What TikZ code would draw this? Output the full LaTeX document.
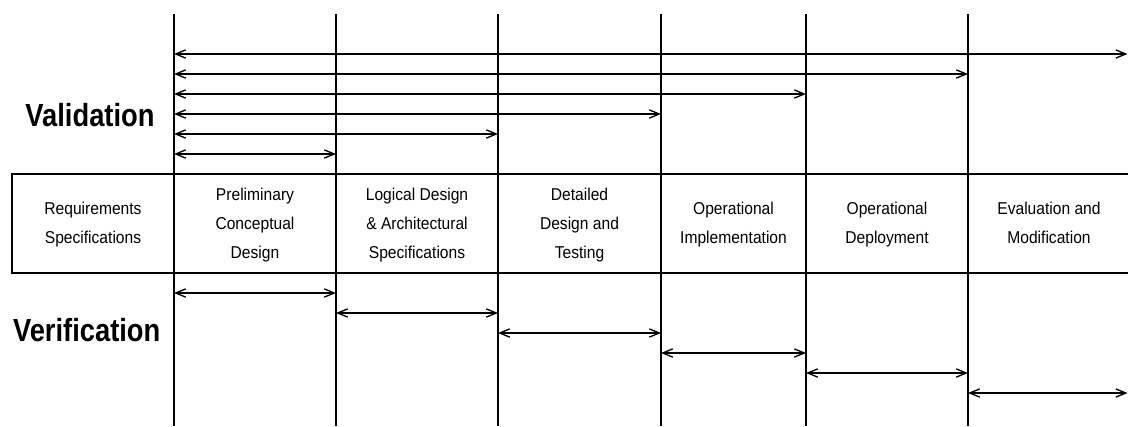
\documentclass[tikz,border=0pt]{standalone}
\usepackage{fontspec}
\setmainfont{Liberation Sans}
\usetikzlibrary{arrows.meta}
\newcommand\phasetext[1]{\scalebox{1}[1.1]{\fontsize{11.7}{19.6}\selectfont\begin{tabular}{@{}c@{}}#1\end{tabular}}}
\newcommand\bigtitle[1]{\scalebox{1}[1.17]{\fontsize{20.5}{24}\selectfont\bfseries #1}}
\begin{document}
\begin{tikzpicture}[x=0.75pt,y=-0.75pt,
  frame/.style={line width=1.4pt},
  divider/.style={line width=1.3pt},
  span/.style={line width=1pt,{Straight Barb[length=7.5pt,width=6.2pt]}-{Straight Barb[length=7.5pt,width=6.2pt]}},
  phase/.style={inner sep=0pt,anchor=center},
  title/.style={inner sep=0pt,anchor=base}]
\useasboundingbox (0,0) rectangle (1128,426);

% phase boundaries
\foreach \n/\x in {1/174,2/336,3/498,4/661,5/806,6/968}{
  \coordinate (t\n) at (\x,14);
  \coordinate (b\n) at (\x,426);
}
\coordinate (t7) at (1127.5,14);

% the row of phases
\coordinate (boxTL) at (12,174);
\coordinate (boxBL) at (12,273);
\coordinate (boxTR) at (1128,174);
\coordinate (boxBR) at (1128,273);
\draw[frame] (boxTR) -- (boxTL) -- (boxBL) -- (boxBR);
\foreach \n in {1,...,6}{ \draw[divider] (t\n) -- (b\n); }

\node[phase] (p0) at (93,223.5)   {\phasetext{Requirements\\Specifications}};
\node[phase] (p1) at (255,223.5)  {\phasetext{Preliminary\\Conceptual\\Design}};
\node[phase] (p2) at (417,223.5)  {\phasetext{Logical Design\\\& Architectural\\Specifications}};
\node[phase] (p3) at (579.5,223.5){\phasetext{Detailed\\Design and\\Testing}};
\node[phase] (p4) at (733.5,223.5){\phasetext{Operational\\Implementation}};
\node[phase] (p5) at (887,223.5)  {\phasetext{Operational\\Deployment}};
\node[phase] (p6) at (1049,223.5) {\phasetext{Evaluation and\\Modification}};

% side titles
\node[title] (val) at (90,126)   {\bigtitle{Validation}};
\node[title] (ver) at (86.7,341) {\bigtitle{Verification}};

% validation spans, all starting from the first phase boundary
\foreach \m/\y in {7/54,6/74,5/94,4/114,3/134,2/154}{
  \draw[span] (t1 |- 0,\y) -- (t\m |- 0,\y);
}

% verification spans, one per phase
\foreach \a/\b/\y in {1/2/293,2/3/313,3/4/333,4/5/353,5/6/373,6/7/393}{
  \draw[span] (t\a |- 0,\y) -- (t\b |- 0,\y);
}
\end{tikzpicture}
\end{document}
